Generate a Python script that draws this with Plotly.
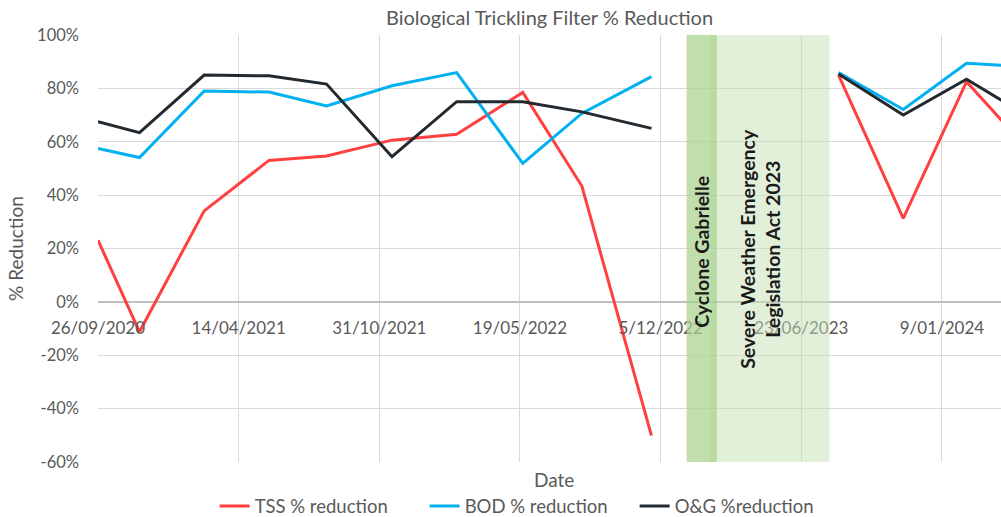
import plotly.graph_objects as go

# ---- data ----
dates = ["2020-09-26", "2020-11-24", "2021-02-24", "2021-05-27", "2021-08-17",
         "2021-11-18", "2022-02-18", "2022-05-23", "2022-08-15", "2022-11-22",
         None,
         "2023-08-15", "2023-11-15", "2024-02-13", "2024-05-15"]
tss = [0.231, -0.112, 0.341, 0.530, 0.547, 0.606, 0.628, 0.785, 0.434, -0.501,
       None, 0.850, 0.313, 0.825, 0.558]
bod = [0.575, 0.541, 0.790, 0.786, 0.734, 0.810, 0.859, 0.519, 0.706, 0.844,
       None, 0.859, 0.721, 0.894, 0.881]
og = [0.675, 0.634, 0.850, 0.847, 0.816, 0.544, 0.750, 0.750, 0.712, 0.650,
      None, 0.854, 0.700, 0.834, 0.689]

series_names = ["TSS % reduction", "BOD % reduction", "O&G %reduction"]
series_colors = ["#FF4040", "#00B0F0", "#222A30"]

tick_dates = ["2020-09-26", "2021-04-14", "2021-10-31", "2022-05-19",
              "2022-12-05", "2023-06-23", "2024-01-09"]
tick_labels = ["26/09/2020", "14/04/2021", "31/10/2021", "19/05/2022",
               "5/12/2022", "23/06/2023", "9/01/2024"]

y_ticks = [-0.6, -0.4, -0.2, 0, 0.2, 0.4, 0.6, 0.8, 1.0]
y_labels = ["-60%", "-40%", "-20%", "0%", "20%", "40%", "60%", "80%", "100%"]

# event periods
event_names = ["Cyclone Gabrielle", "Severe Weather Emergency<br>Legislation Act 2023"]
event_starts = ["2023-01-11", "2023-02-13"]
event_ends = ["2023-02-23", "2023-08-02"]
event_label_x = ["2023-02-02", "2023-04-25"]
event_label_y = [0.188, 0.198]
event_fills = ["rgba(169,209,142,0.72)", "rgba(197,224,180,0.5)"]

x_range = ["2020-09-26", "2024-04-02"]
y_range = [-0.6, 1.0]

FONT = "Lato"
GREY = "#595959"

fig = go.Figure()
for name, vals, col in zip(series_names, [tss, bod, og], series_colors):
    fig.add_trace(go.Scatter(x=dates, y=vals, mode="lines", name=name,
                             line=dict(color=col, width=3),
                             connectgaps=False))

# draw light region first, dark on top
for i in [1, 0]:
    fig.add_shape(type="rect", xref="x", yref="y",
                  x0=event_starts[i], x1=event_ends[i], y0=y_range[0], y1=y_range[1],
                  fillcolor=event_fills[i], line=dict(width=0), layer="above")

for i in range(len(event_names)):
    fig.add_annotation(x=event_label_x[i], y=event_label_y[i], xref="x", yref="y",
                       text="<b>" + event_names[i] + "</b>", textangle=-90,
                       showarrow=False, font=dict(family=FONT, size=19.5, color="#1a1a1a"),
                       align="center")

fig.add_annotation(x=0.505, y=-0.0405, xref="paper", yref="paper", text="Date",
                   showarrow=False, font=dict(family=FONT, size=19, color=GREY),
                   xanchor="center", yanchor="middle")

zero_pos = (0 - y_range[0]) / (y_range[1] - y_range[0])

fig.update_layout(
    width=1001, height=517,
    margin=dict(l=98, r=0, t=35, b=55, autoexpand=False),
    paper_bgcolor="white", plot_bgcolor="white",
    font=dict(family=FONT, size=17, color=GREY),
    title=dict(text="Biological Trickling Filter % Reduction", x=0.5, xref="paper",
               xanchor="center", y=0.965, yanchor="middle", automargin=False,
               font=dict(family=FONT, size=20, color=GREY)),
    showlegend=True,
    legend=dict(orientation="h", x=0.478, xanchor="center", y=-0.104, yanchor="middle",
                entrywidth=165, entrywidthmode="pixels",
                font=dict(family=FONT, size=18.5, color=GREY), bgcolor="rgba(0,0,0,0)"),
    xaxis=dict(type="date", range=x_range, tickvals=tick_dates, ticktext=tick_labels,
               anchor="free", position=zero_pos, showline=False, automargin=False,
               showgrid=True, gridcolor="#D9D9D9", gridwidth=1,
               ticks="", ticklabelstandoff=14, zeroline=False,
               tickfont=dict(family=FONT, size=17, color=GREY)),
    yaxis=dict(range=y_range, tickvals=y_ticks, ticktext=y_labels, automargin=False,
               showgrid=True, gridcolor="#D9D9D9", gridwidth=1,
               zeroline=True, zerolinecolor="#BFBFBF", zerolinewidth=1.5,
               showline=False, ticks="", ticklabelstandoff=18,
               title=dict(text="% Reduction", standoff=8,
                          font=dict(family=FONT, size=19, color=GREY)),
               tickfont=dict(family=FONT, size=16.5, color=GREY)),
)

fig.write_html("out.html", config={"displayModeBar": False},
               post_script="document.body.style.margin='0';document.body.style.overflow='hidden';")
